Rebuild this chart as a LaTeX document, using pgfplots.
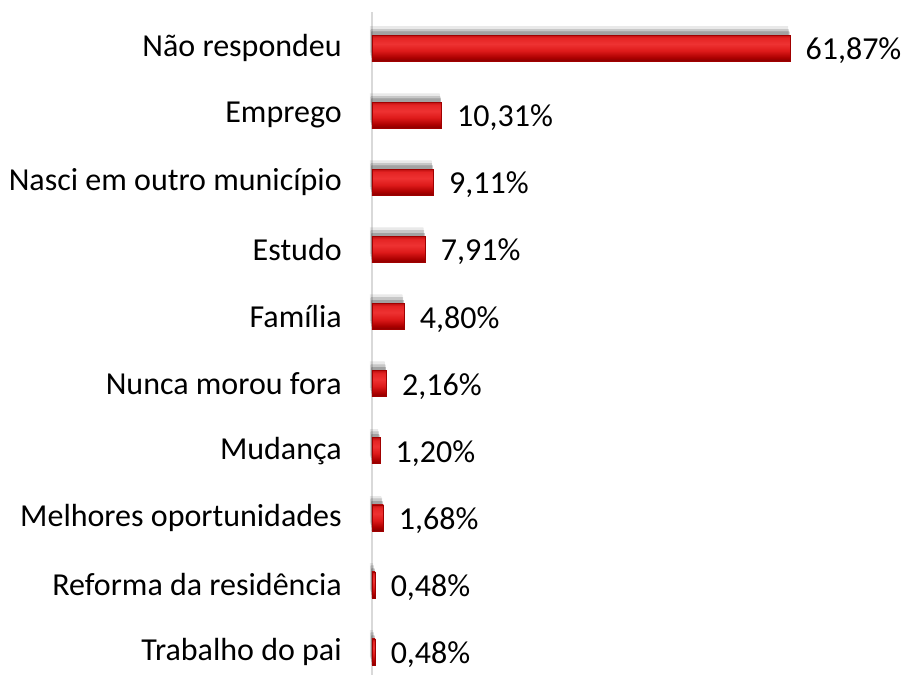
\documentclass[border=0pt]{standalone}
\usepackage{fontspec}
\setmainfont{Carlito}
\usepackage{pgfplots}
\pgfplotsset{compat=1.18}
\usetikzlibrary{shadows}
\definecolor{baredge}{RGB}{160,0,0}
\definecolor{axisgray}{RGB}{217,217,217}
\pgfdeclareverticalshading{barshade}{100bp}{
  color(0bp)=(rgb,255:red,135;green,0;blue,0);
  color(25bp)=(rgb,255:red,135;green,0;blue,0);
  color(32bp)=(rgb,255:red,172;green,0;blue,0);
  color(45bp)=(rgb,255:red,222;green,26;blue,26);
  color(58bp)=(rgb,255:red,238;green,50;blue,50);
  color(70bp)=(rgb,255:red,228;green,36;blue,36);
  color(75bp)=(rgb,255:red,190;green,16;blue,16);
  color(100bp)=(rgb,255:red,190;green,16;blue,16)}
\pgfplotsset{
  mybar/.style={xbar, bar width=19.5pt, bar shift=0pt,
    draw=baredge, line width=0.3pt,
    shading=barshade,
    drop shadow={shadow xshift=-1.5pt, shadow yshift=6.5pt, top color=black, bottom color=black, middle color=black, draw=none, opacity=0.06},
    drop shadow={shadow xshift=-1pt, shadow yshift=4.5pt, top color=black, bottom color=black, middle color=black, draw=none, opacity=0.10},
    drop shadow={shadow xshift=-0.5pt, shadow yshift=2.5pt, top color=black, bottom color=black, middle color=black, draw=none, opacity=0.14},
    shading=barshade},
}
\begin{document}
\begin{tikzpicture}[font=\fontsize{24}{28}\selectfont]
\useasboundingbox (-279pt,0pt) rectangle (399.75pt,505.5pt);
\begin{axis}[
  at={(0pt,0pt)}, anchor=south west,
  scale only axis,
  width=399.75pt, height=505.5pt,
  xmin=0, xmax=78.88,
  ymin=-0.328, ymax=9.717,
  axis line style={draw=none},
  xtick=\empty,
  ytick={0,...,9},
  yticklabels={Trabalho do pai, Reforma da residência, Melhores oportunidades, Mudança, Nunca morou fora, Família, Estudo, Nasci em outro município, Emprego, Não respondeu},
  major tick length=0pt,
  yticklabel style={anchor=east, inner sep=0pt, xshift=-22.5pt, font=\fontsize{24}{28}\selectfont},
  clip=false,
  nodes near coords={\pgfmathprintnumber[fixed,fixed zerofill,precision=2,use comma,assume math mode=true]{\pgfplotspointmeta}\%},
  nodes near coords align={horizontal},
  every node near coord/.append style={anchor=west, inner sep=0pt, xshift=11.5pt, yshift=-2pt, text=black, font=\fontsize{24}{28}\selectfont},
  point meta=x,
]
\draw[axisgray, line width=1.5pt] (axis cs:0,-0.4) -- (axis cs:0,9.54);
\addplot[mybar] coordinates {(0.48,0)};
\addplot[mybar] coordinates {(0.48,1)};
\addplot[mybar] coordinates {(1.68,2)};
\addplot[mybar] coordinates {(1.20,3)};
\addplot[mybar] coordinates {(2.16,4)};
\addplot[mybar] coordinates {(4.80,5)};
\addplot[mybar] coordinates {(7.91,6)};
\addplot[mybar] coordinates {(9.11,7)};
\addplot[mybar] coordinates {(10.31,8)};
\addplot[mybar] coordinates {(61.87,9)};
\end{axis}
\end{tikzpicture}
\end{document}
